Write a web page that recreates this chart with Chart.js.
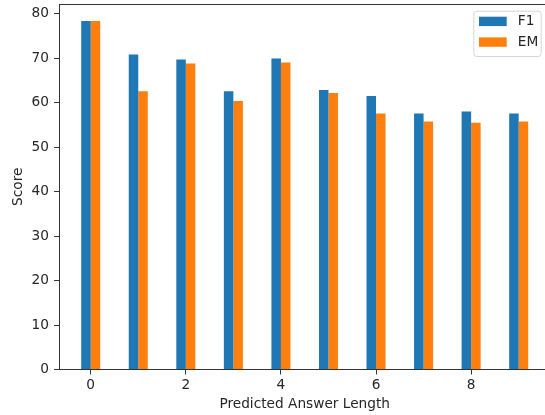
<!DOCTYPE html>
<html>
<head>
<meta charset="utf-8">
<script src="https://cdn.jsdelivr.net/npm/chart.js@4/dist/chart.umd.min.js"></script>
<style>
  html, body { margin: 0; padding: 0; background: #fff; overflow: hidden; }
  #wrap { width: 545px; height: 415px; overflow: hidden; position: relative; }
  canvas { display: block; }
</style>
</head>
<body>
<div id="wrap"><canvas id="c" width="565" height="415"></canvas></div>
<script>
const categories = [0, 1, 2, 3, 4, 5, 6, 7, 8, 9];
const f1Scores = [78.4, 70.85, 69.7, 62.6, 69.95, 62.85, 61.5, 57.55, 58.0, 57.55];
const emScores = [78.4, 62.6, 68.8, 60.4, 69.05, 62.2, 57.55, 55.75, 55.5, 55.75];
const xTickLabels = [0, 2, 4, 6, 8];
const yTickLabels = [0, 10, 20, 30, 40, 50, 60, 70, 80];
const seriesNames = ['F1', 'EM'];
const seriesColors = ['#1f77b4', '#ff7f0e'];
const xTitle = 'Predicted Answer Length';
const yTitle = 'Score';

const FONT_PX = 13.7;
Chart.defaults.font.family = "'DejaVu Sans', sans-serif";
Chart.defaults.font.size = FONT_PX;
Chart.defaults.color = '#262626';

const axisColor = '#333333';

const topSpine = {
  id: 'topSpine',
  afterDraw(chart) {
    const { ctx, chartArea: a } = chart;
    ctx.save();
    ctx.strokeStyle = axisColor;
    ctx.lineWidth = 1;
    ctx.beginPath();
    ctx.moveTo(a.left, Math.round(a.top) + 0.5);
    ctx.lineTo(a.right, Math.round(a.top) + 0.5);
    ctx.stroke();
    ctx.restore();
  }
};

const mplLegend = {
  id: 'mplLegend',
  afterDraw(chart) {
    const { ctx, chartArea: a } = chart;
    const right = a.right - 9.7;
    const left = right - 67.4;
    const top = a.top + 6.7;
    const h = 45.3;
    ctx.save();
    ctx.globalAlpha = 0.8;
    ctx.fillStyle = '#ffffff';
    ctx.strokeStyle = '#cccccc';
    ctx.lineWidth = 1;
    ctx.beginPath();
    ctx.roundRect(left + 0.5, top + 0.5, right - left, h, 3);
    ctx.fill();
    ctx.stroke();
    ctx.globalAlpha = 1;
    seriesNames.forEach((name, i) => {
      const y = top + 6 + i * 20.7;
      ctx.fillStyle = seriesColors[i];
      ctx.fillRect(left + 5.7, y, 27.7, 9.4);
      ctx.fillStyle = '#262626';
      ctx.font = FONT_PX + "px 'DejaVu Sans', sans-serif";
      ctx.textBaseline = 'middle';
      ctx.textAlign = 'left';
      ctx.fillText(name, left + 44.5, y + 5);
    });
    ctx.restore();
  }
};

const datasets = [f1Scores, emScores].map((vals, s) => ({
  label: seriesNames[s],
  data: categories.map((c, i) => ({ x: c, y: vals[i] })),
  backgroundColor: seriesColors[s],
  borderWidth: 0,
  categoryPercentage: 0.4,
  barPercentage: 1.0
}));

new Chart(document.getElementById('c'), {
  type: 'bar',
  data: { datasets },
  plugins: [topSpine, mplLegend],
  options: {
    responsive: false,
    animation: false,
    devicePixelRatio: 1,
    layout: { padding: { top: 4, right: 14.6, left: 0, bottom: 0 } },
    plugins: { legend: { display: false }, tooltip: { enabled: false } },
    scales: {
      x: {
        type: 'linear',
        offset: false,
        min: -0.667,
        max: 9.667,
        afterBuildTicks: (scale) => { scale.ticks = xTickLabels.map(v => ({ value: v })); },
        afterFit: (scale) => { scale.height = 45.5; scale.paddingLeft = 0; scale.paddingRight = 0; },
        ticks: { padding: 3, color: '#262626', font: { size: FONT_PX } },
        grid: { display: true, offset: false, drawOnChartArea: false, drawTicks: true, tickLength: 5, color: axisColor },
        border: { display: true, color: axisColor, width: 1 },
        title: { display: true, text: xTitle, color: '#262626', font: { size: FONT_PX }, padding: { top: 2, bottom: 2 } }
      },
      y: {
        type: 'linear',
        min: 0,
        max: 82.2,
        afterBuildTicks: (scale) => { scale.ticks = yTickLabels.map(v => ({ value: v })); },
        afterFit: (scale) => { scale.width = 59; scale.paddingTop = 0; scale.paddingBottom = 0; },
        ticks: { padding: 5, color: '#262626', font: { size: FONT_PX } },
        grid: { display: true, offset: false, drawOnChartArea: false, drawTicks: true, tickLength: 5, color: axisColor },
        border: { display: true, color: axisColor, width: 1 },
        title: { display: true, text: yTitle, color: '#262626', font: { size: FONT_PX }, padding: { top: 10, bottom: 4 } }
      }
    }
  }
});
</script>
</body>
</html>
